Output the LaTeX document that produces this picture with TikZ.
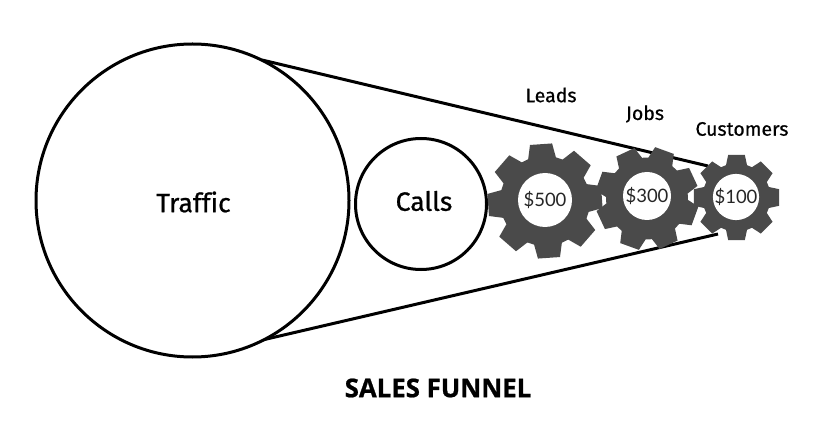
\documentclass[tikz,border=0pt]{standalone}
\usepackage{fontspec}
\setmainfont{Fira Sans}[Ligatures=NoCommon]
\newfontfamily\lightface{Lato}
\newfontfamily\titleface{Open Sans}
\tikzset{
  x=1pt,y=-1pt,
  ring/.style={circle,draw=black,line width=3pt,fill=white,inner sep=0pt},
  funnel/.style={draw=black,line width=3pt},
  hub/.style={circle,fill=white,inner sep=0pt,font=\lightface\fontsize{18.5}{20}\selectfont,text=black!85},
  caption/.style={font=\fontsize{19.5}{22}\selectfont\addfontfeature{FakeBold=0.6},text=black},
  stagename/.style={font=\fontsize{26.5}{30}\selectfont\addfontfeature{FakeBold=0.8},text=black},
  pics/cog/.style n args={3}{code={
    % outer radius, root radius, angular offset of the first tooth
    \fill[cogcolor] (#3-18:#2)
      foreach \k in {0,...,7}{
        -- ({#3+45*\k-18}:#2) -- ({#3+45*\k-11}:#1) -- ({#3+45*\k+11}:#1)
        -- ({#3+45*\k+18}:#2) -- ({#3+45*\k+27}:#2)
      } -- cycle;
  }}
}
\definecolor{cogcolor}{HTML}{4A4A4A}
\begin{document}
\begin{tikzpicture}
\useasboundingbox (0,0) rectangle (829,430);
% funnel outline, running behind the gears
\coordinate (topA) at (262,60);
\coordinate (topB) at (708,166);
\coordinate (botA) at (258,341);
\coordinate (botB) at (718,234);
\draw[funnel] (topA) -- (topB);
\draw[funnel] (botA) -- (botB);
% stages
\node[ring,minimum size=313pt] (traffic) at (192.5,200.5) {};
\node[ring,minimum size=131pt] (calls) at (421,204) {};
\node[stagename] (trafficlabel) at (193.5,202) {Traffic};
\node[stagename] (callslabel) at (424,201) {Calls};
% gears, left to right
\pic at (545,201) {cog={58}{45}{-4}};
\pic at (647,198.5) {cog={52}{41}{20}};
\pic at (736.5,197.5) {cog={43.5}{34}{0}};
\node[hub,minimum size=54pt] (g1) at (545,200) {\$500};
\node[hub,minimum size=48pt] (g2) at (647,196) {\$300};
\node[hub,minimum size=38pt] (g3) at (736,197) {\$100};
% stage names above the gears
\node[caption] (leads) at (551,95) {Leads};
\node[caption] (jobs) at (645,114) {Jobs};
\node[caption] (customers) at (742,129) {Customers};
\node[font=\titleface\fontsize{25.8}{28}\selectfont\bfseries\addfontfeature{FakeBold=0.8}] (title) at (438,388) {SALES FUNNEL};
\end{tikzpicture}
\end{document}
